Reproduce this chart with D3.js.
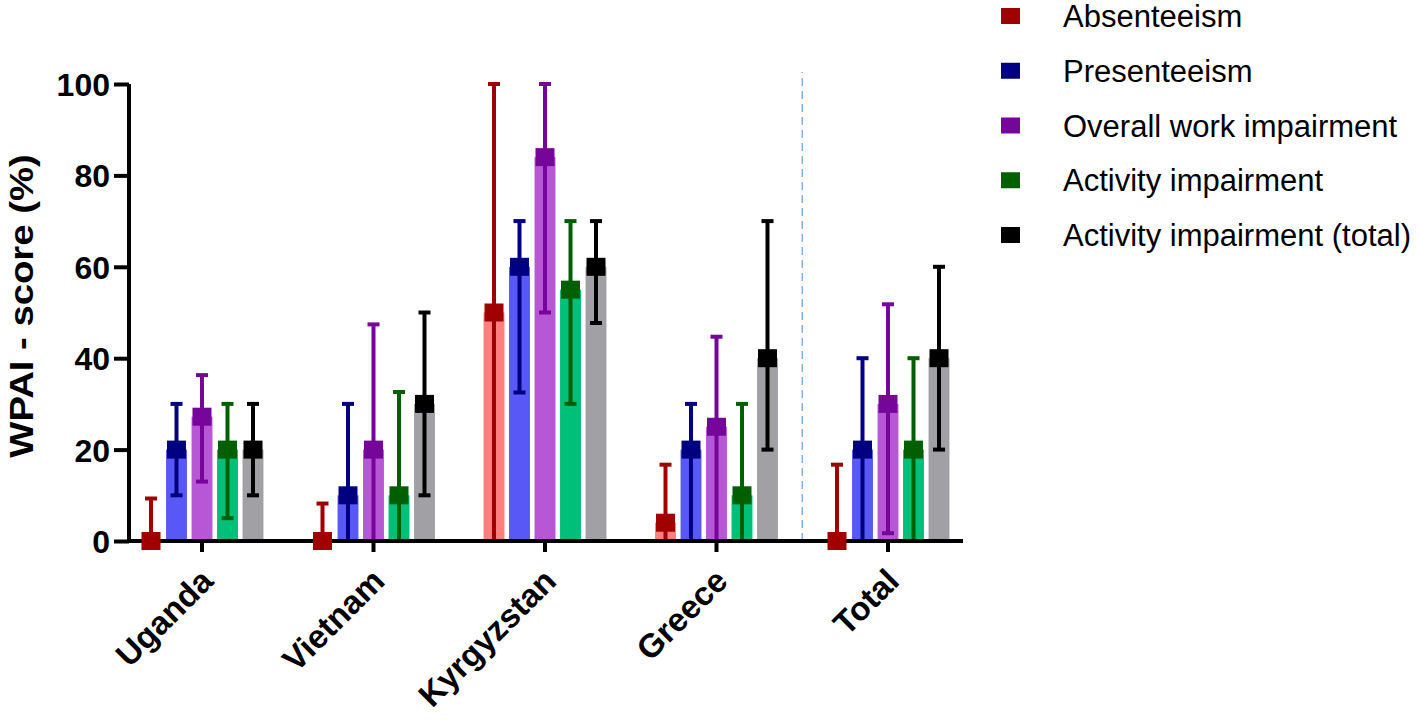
<!DOCTYPE html>
<html>
<head>
<meta charset="utf-8">
<script src="https://cdn.jsdelivr.net/npm/d3@7"></script>
<style>
  html, body { margin: 0; padding: 0; background: #fff; }
  svg { display: block; font-family: Arial, "Liberation Sans", Helvetica, sans-serif; }
</style>
</head>
<body>
<svg id="chart" width="1418" height="720"></svg>
<script>
// ---- data ----
const categories = ["Uganda", "Vietnam", "Kyrgyzstan", "Greece", "Total"];
const seriesNames = ["Absenteeism", "Presenteeism", "Overall work impairment", "Activity impairment", "Activity impairment (total)"];

// medians
const absenteeism       = [0, 0, 50, 4, 0];
const presenteeism      = [20, 10, 60, 20, 20];
const overallWork       = [27.2, 20, 84, 25, 30];
const activity          = [20, 10, 55, 10, 20];
const activityTotal     = [20, 30, 60, 40, 40];
// lower (Q1)
const absenteeismLow    = [0, 0, 0, 0, 0];
const presenteeismLow   = [10, 0, 32.5, 0, 0];
const overallWorkLow    = [13, 0, 50, 0, 1.7];
const activityLow       = [5, 0, 30, 0, 0];
const activityTotalLow  = [10, 10, 47.7, 20, 20];
// upper (Q3)
const absenteeismHigh   = [9.3, 8.2, 100, 16.7, 16.7];
const presenteeismHigh  = [30, 30, 70, 30, 40];
const overallWorkHigh   = [36.3, 47.4, 100, 44.7, 51.8];
const activityHigh      = [30, 32.6, 70, 30, 40];
const activityTotalHigh = [30, 50, 70, 70, 60];

const yTicks = [0, 20, 40, 60, 80, 100];

const barColors  = ["#FF7F7F", "#5858F6", "#B857D5", "#00BF78", "#A0A0A5"];
const markColors = ["#A00000", "#000080", "#76069A", "#005F00", "#000000"];

const medians = [absenteeism, presenteeism, overallWork, activity, activityTotal];
const lows    = [absenteeismLow, presenteeismLow, overallWorkLow, activityLow, activityTotalLow];
const highs   = [absenteeismHigh, presenteeismHigh, overallWorkHigh, activityHigh, activityTotalHigh];

const rows = [];
categories.forEach((c, ci) => {
  seriesNames.forEach((s, si) => {
    rows.push({ cat: c, series: s, si, v: medians[si][ci], lo: lows[si][ci], hi: highs[si][ci] });
  });
});

// ---- layout ----
const svg = d3.select("#chart");
const axisX = 129;      // y-axis position
const xEnd = 963;

const x = d3.scaleBand().domain(categories).range([116.25, 973.75]).paddingInner(0).paddingOuter(0);
const xs = d3.scaleBand().domain(seriesNames).range([-63.75, 63.75]).paddingInner(0.18).paddingOuter(0.09);
const y = d3.scaleLinear().domain([0, 100]).range([541, 84]);

const cx = d => x(d.cat) + x.bandwidth() / 2 + xs(d.series) + xs.bandwidth() / 2;

// dashed separator between Greece and Total
const sepX = (x("Greece") + x("Total") + x.bandwidth()) / 2;
svg.append("line")
  .attr("x1", sepX).attr("x2", sepX)
  .attr("y1", y(0)).attr("y2", y(100) - 12)
  .attr("stroke", "#6FA8E0").attr("stroke-width", 1.3)
  .attr("stroke-dasharray", "8,5");

// bars
svg.append("g").selectAll("rect").data(rows).join("rect")
  .attr("x", d => x(d.cat) + x.bandwidth() / 2 + xs(d.series))
  .attr("width", xs.bandwidth())
  .attr("y", d => y(d.v))
  .attr("height", d => y(0) - y(d.v))
  .attr("fill", d => barColors[d.si]);

// error bars
const eg = svg.append("g");
eg.selectAll("line.stem").data(rows).join("line").attr("class", "stem")
  .attr("x1", cx).attr("x2", cx)
  .attr("y1", d => y(d.lo)).attr("y2", d => y(d.hi))
  .attr("stroke", d => markColors[d.si]).attr("stroke-width", 4);
const capW = 12;
eg.selectAll("line.capHi").data(rows).join("line").attr("class", "capHi")
  .attr("x1", d => cx(d) - capW / 2).attr("x2", d => cx(d) + capW / 2)
  .attr("y1", d => y(d.hi)).attr("y2", d => y(d.hi))
  .attr("stroke", d => markColors[d.si]).attr("stroke-width", 4);
eg.selectAll("line.capLo").data(rows).join("line").attr("class", "capLo")
  .attr("x1", d => cx(d) - capW / 2).attr("x2", d => cx(d) + capW / 2)
  .attr("y1", d => y(d.lo)).attr("y2", d => y(d.lo))
  .attr("stroke", d => markColors[d.si]).attr("stroke-width", 4);

// axes
const yAxis = d3.axisLeft(y).tickValues(yTicks).tickSize(15).tickSizeOuter(0).tickPadding(4);
const yg = svg.append("g").attr("transform", `translate(${axisX},0)`).call(yAxis);
yg.select(".domain").attr("stroke", "#000").attr("stroke-width", 4)
  .attr("d", `M0,${y(0) + 2}V${y(100)}`);
yg.selectAll(".tick line").attr("stroke", "#000").attr("stroke-width", 4);
yg.selectAll(".tick text").attr("fill", "#000").attr("font-size", 32).attr("font-weight", "bold")
  .attr("font-family", "Arial, 'Liberation Sans', sans-serif").attr("dy", "0.36em");

const xAxis = d3.axisBottom(x).tickSize(11).tickSizeOuter(0).tickFormat(d => d);
const xg = svg.append("g").attr("transform", `translate(0,${y(0)})`).call(xAxis);
xg.select(".domain").remove();
xg.append("line").attr("x1", axisX - 2).attr("x2", xEnd).attr("y1", 0).attr("y2", 0)
  .attr("stroke", "#000").attr("stroke-width", 4);
xg.selectAll(".tick line").attr("stroke", "#000").attr("stroke-width", 4);
xg.selectAll(".tick text")
  .attr("fill", "#000").attr("font-size", 33).attr("font-weight", "bold")
  .attr("font-family", "Arial, 'Liberation Sans', sans-serif")
  .attr("text-anchor", "end")
  .attr("dy", null).attr("y", 0)
  .attr("transform", "translate(13,42) rotate(-45)");

// y title
svg.append("text")
  .attr("transform", `translate(33,${306}) rotate(-90) scale(1.16,1)`)
  .attr("text-anchor", "middle")
  .attr("font-size", 33).attr("font-weight", "bold").attr("fill", "#000")
  .text("WPAI - score (%)");

// markers (on top)
const mW = 19, mH = 18;
svg.append("g").selectAll("rect").data(rows).join("rect")
  .attr("x", d => cx(d) - mW / 2)
  .attr("y", d => y(d.v) - mH / 2)
  .attr("width", mW).attr("height", mH)
  .attr("fill", d => markColors[d.si]);

// legend
const lg = svg.append("g");
const legY = d3.scalePoint().domain(seriesNames).range([16, 235]);
lg.selectAll("rect").data(seriesNames).join("rect")
  .attr("x", 1001).attr("y", d => legY(d) - 8)
  .attr("width", 19).attr("height", 16)
  .attr("fill", (d, i) => markColors[i]);
lg.selectAll("text").data(seriesNames).join("text")
  .attr("x", 1063).attr("y", d => legY(d))
  .attr("dy", "0.36em")
  .attr("font-size", 31).attr("fill", "#000")
  .text(d => d);
</script>
</body>
</html>
